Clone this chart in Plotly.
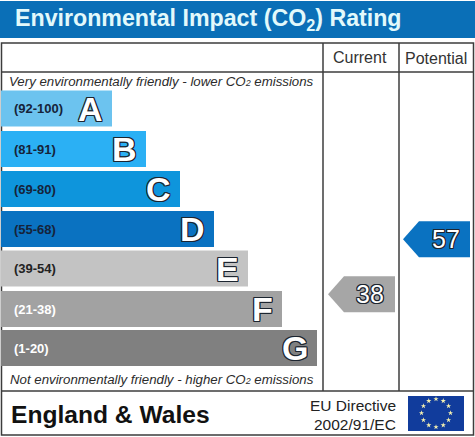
import numpy as np
import plotly.graph_objects as go

# rating bands
bands = ['(92-100)', '(81-91)', '(69-80)', '(55-68)', '(39-54)', '(21-38)', '(1-20)']
letters = ['A', 'B', 'C', 'D', 'E', 'F', 'G']
bar_lengths = [111, 145, 179, 213, 247, 281, 316]
bar_rows = [108.5, 149, 189, 229, 268.5, 309, 348]
bar_colors = ['#6cc3ef', '#2bb0f4', '#0e95dc', '#0a72c1', '#c3c3c3', '#a2a2a2', '#808080']
band_text_colors = ['#16233a', '#16233a', '#16233a', '#16233a', '#222222', '#ffffff', '#ffffff']

current_score = 38
potential_score = 57
current_color = '#a6a6a6'
potential_color = '#0a72c1'

W, H = 475, 437


def score_y(score):
    # arrows sit on a straight score scale down the column
    return 404 - 2.89 * score


def arrow_path(right, y, length=67, half=18, head=16):
    left = right - length
    return (f'M {left} {y} L {left + head} {y - half} L {right} {y - half} '
            f'L {right} {y + half} L {left + head} {y + half} Z')


outline = ','.join(f'{dx}px {dy}px 0 #1c2530' for dx in (-1, 0, 1) for dy in (-1, 0, 1) if dx or dy)

fig = go.Figure()
fig.add_trace(go.Bar(x=bar_lengths, y=bar_rows, base=1, width=36, orientation='h',
                     marker=dict(color=bar_colors, line=dict(width=0)), hoverinfo='skip'))

# EU flag stars
angles = np.linspace(0, 2 * np.pi, 12, endpoint=False)
fig.add_trace(go.Scatter(x=436 + 14.5 * np.cos(angles), y=413 + 14 * np.sin(angles), mode='markers',
                         marker=dict(symbol='star', size=4, color='#f4f0b0'), hoverinfo='skip'))

line = dict(color='#3c3c3c', width=1.5)
shapes = [
    dict(type='rect', x0=0, x1=W, y0=1, y1=38, fillcolor='#0a6fb7', line_width=0, layer='below'),
    dict(type='rect', x0=1.5, x1=473.5, y0=43, y1=435, line=line, layer='below'),
    dict(type='line', x0=1.5, x1=473.5, y0=72, y1=72, line=line),
    dict(type='line', x0=1.5, x1=473.5, y0=391, y1=391, line=line),
    dict(type='line', x0=323, x1=323, y0=43, y1=391, line=line),
    dict(type='line', x0=399, x1=399, y0=43, y1=391, line=line),
    dict(type='rect', x0=408, x1=464, y0=396, y1=431, fillcolor='#113c9c', line_width=0, layer='below'),
    dict(type='path', path=arrow_path(395, score_y(current_score)), fillcolor=current_color, line_width=0),
    dict(type='path', path=arrow_path(470, score_y(potential_score)), fillcolor=potential_color, line_width=0),
]


def label(x, y, text, size, color='#1a1a1a', anchor='left', family='Liberation Sans', **kw):
    return dict(x=x, y=y, text=text, xref='x', yref='y', showarrow=False, xanchor=anchor, yanchor='middle',
                font=dict(size=size, color=color, family=family, **kw))


small_two = '<span style="font-size:9px">2</span>'
notes = [
    label(13, 19.5, '<b>Environmental Impact (CO<sub>2</sub>) Rating</b>', 23.2, '#e2f9fb'),
    label(360, 57, 'Current', 16, '#333333', 'center'),
    label(436, 58, 'Potential', 16, '#333333', 'center'),
    label(7, 81, f'<i>Very environmentally friendly - lower CO{small_two} emissions</i>', 13.25, '#2b2b2b'),
    label(8, 379, f'<i>Not environmentally friendly - higher CO{small_two} emissions</i>', 13.25, '#2b2b2b'),
    label(8.5, 414, '<b>England &amp; Wales</b>', 24.6, '#111111'),
    label(398, 405, 'EU Directive', 15.5, '#222222', 'right'),
    label(398, 424, '2002/91/EC', 15.5, '#222222', 'right'),
]
for band, letter, n, row, text_color in zip(bands, letters, bar_lengths, bar_rows, band_text_colors):
    notes.append(label(12, row, f'<b>{band}</b>', 13, text_color))
    notes.append(label(n - 6, row, f'<b>{letter}</b>', 34, '#ffffff', 'right', shadow=outline))
notes.append(label(386, score_y(current_score), str(current_score), 25, '#ffffff', 'right', shadow=outline))
notes.append(label(462, score_y(potential_score), str(potential_score), 25, '#ffffff', 'right', shadow=outline))

fig.update_layout(width=W, height=H, margin=dict(l=0, r=0, t=0, b=0), showlegend=False,
                  paper_bgcolor='white', plot_bgcolor='white', shapes=shapes, annotations=notes,
                  xaxis=dict(range=[0, W], visible=False, fixedrange=True),
                  yaxis=dict(range=[H, 0], visible=False, fixedrange=True))

fig.write_html("out.html", config=dict(displayModeBar=False), post_script="document.body.style.margin='0';")
